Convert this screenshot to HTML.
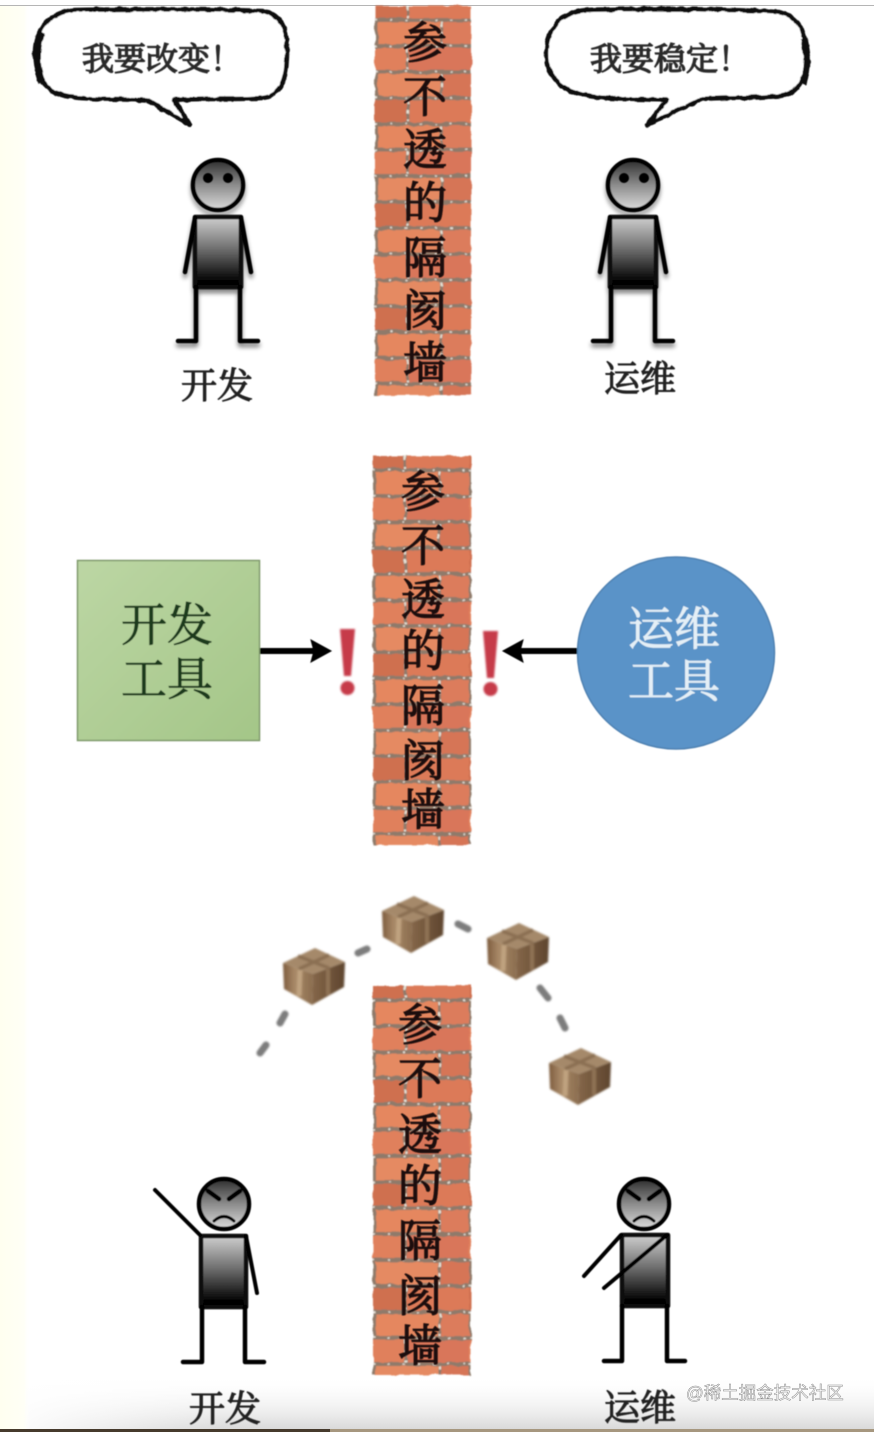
<!DOCTYPE html>
<html>
<head>
<meta charset="utf-8">
<style>
html,body{margin:0;padding:0;background:#fff;width:874px;height:1432px;overflow:hidden}
svg{display:block}
text{font-family:"Liberation Serif","Noto Serif CJK SC","Noto Sans CJK SC",serif}
.wall{font-size:44px;fill:#1c0d0a;stroke:#1c0d0a;stroke-width:1.2;text-anchor:middle}
.lab{font-size:36px;fill:#222;stroke:#222;stroke-width:1;text-anchor:middle}
.bub{font-size:32px;fill:#2a2a2a;stroke:#2a2a2a;stroke-width:1.3;text-anchor:middle}
.tool{font-size:46px;text-anchor:middle;stroke-width:.8}
</style>
</head>
<body>
<svg xmlns="http://www.w3.org/2000/svg" width="874" height="1432" viewBox="0 0 874 1432">
<defs>
<linearGradient id="side" x1="0" x2="1" y1="0" y2="0"><stop offset="0" stop-color="#fffff0"/><stop offset=".8" stop-color="#fffff6"/><stop offset="1" stop-color="#fff" stop-opacity="0"/></linearGradient>
<linearGradient id="foot" x1="0" x2="0" y1="0" y2="1"><stop offset="0" stop-color="#fff" stop-opacity="0"/><stop offset="1" stop-color="#d8d8d8"/></linearGradient>
<linearGradient id="footx" x1="0" x2="1" y1="0" y2="0"><stop offset="0" stop-color="#fff"/><stop offset=".45" stop-color="#fff" stop-opacity="0"/></linearGradient>
<linearGradient id="body" x1="0" x2="0" y1="0" y2="1"><stop offset="0" stop-color="#cfcfcf"/><stop offset=".45" stop-color="#707070"/><stop offset=".9" stop-color="#060606"/><stop offset="1" stop-color="#000"/></linearGradient>
<linearGradient id="head" x1="0" x2="0" y1="0" y2="1"><stop offset="0" stop-color="#2e2e2e"/><stop offset=".5" stop-color="#8c8c8c"/><stop offset="1" stop-color="#dcdcdc"/></linearGradient>
<linearGradient id="green" x1="0" x2="1" y1="0" y2="1"><stop offset="0" stop-color="#bcd6a4"/><stop offset="1" stop-color="#a4c688"/></linearGradient>
<linearGradient id="bl" x1="0" x2="1" y1="0" y2="0"><stop offset="0" stop-color="#7d5c3e"/><stop offset=".4" stop-color="#a98a68"/><stop offset="1" stop-color="#8a6c4e"/></linearGradient>
<linearGradient id="br" x1="0" x2="1" y1="0" y2="0"><stop offset="0" stop-color="#856749"/><stop offset="1" stop-color="#5e452f"/></linearGradient>
<filter id="b1" x="-10%" y="-10%" width="120%" height="120%"><feGaussianBlur stdDeviation="1"/></filter>
<filter id="b2" x="-20%" y="-20%" width="140%" height="140%"><feGaussianBlur stdDeviation="2.4"/></filter>
<filter id="b3" x="-10%" y="-10%" width="120%" height="120%"><feGaussianBlur stdDeviation=".6"/></filter>
<filter id="rough" x="-5%" y="-5%" width="110%" height="110%">
<feTurbulence type="fractalNoise" baseFrequency=".09" numOctaves="2" seed="4" result="n"/>
<feDisplacementMap in="SourceGraphic" in2="n" scale="4" xChannelSelector="R" yChannelSelector="G"/>
<feGaussianBlur stdDeviation=".7"/>
</filter>
<filter id="rough2" x="-5%" y="-5%" width="110%" height="110%">
<feTurbulence type="fractalNoise" baseFrequency=".12" numOctaves="2" seed="9" result="n"/>
<feDisplacementMap in="SourceGraphic" in2="n" scale="3.5" xChannelSelector="R" yChannelSelector="G"/>
<feGaussianBlur stdDeviation=".5"/>
</filter>

<pattern id="brick" width="96" height="104" patternUnits="userSpaceOnUse" patternTransform="translate(0,-10)">
<rect width="96" height="104" fill="#8f7a6a"/>
<rect x="0" y="0" width="31" height="22" fill="#cf6f50"/><rect x="34" y="0" width="62" height="22" fill="#dc7a58"/>
<rect x="3" y="26" width="62" height="22" fill="#e5875f"/><rect x="68" y="26" width="28" height="22" fill="#dc7c5c"/>
<rect x="0" y="52" width="31" height="22" fill="#e0805c"/><rect x="34" y="52" width="62" height="22" fill="#d9765a"/>
<rect x="3" y="78" width="62" height="22" fill="#e58a62"/><rect x="68" y="78" width="28" height="22" fill="#d67456"/>
<path d="M0 24H96M0 50H96M0 76H96M0 102H96" stroke="#e9e4dc" stroke-width="1.500" stroke-dasharray="2 13" fill="none"/>
<path d="M32.500 0V22M66.500 26V48M32.500 52V74M66.500 78V100" stroke="#e8e2d6" stroke-width="2" stroke-dasharray="4 6" fill="none"/>
</pattern>

<g id="cube">
<polygon points="-31,-14 1,-29 31,-15 -1,-3" fill="#a5896a"/>
<polygon points="-31,-14 -1,-3 -2,28 -30,12" fill="url(#bl)"/>
<polygon points="31,-15 -1,-3 -2,28 30,10" fill="url(#br)"/>
<path d="M-16,-21 L15,-9 M15,-22 L-15,-8" stroke="#8b7053" stroke-width="3.500" fill="none"/>
<path d="M-14,-7 L-15,19" stroke="#bfa27f" stroke-width="5" fill="none"/>
<path d="M14,-8 L14,18" stroke="#8f7255" stroke-width="4" fill="none"/>
</g>

<g id="fig">
<g stroke="#000" fill="none" stroke-linecap="round" stroke-linejoin="round">
<rect x="195" y="217" width="46" height="70" fill="url(#body)" stroke="#0a0a0a" stroke-width="4.500"/>
<path d="M195 218L185 272M241 218L251 272" stroke-width="4.500"/>
<path d="M196 287V341H178M240 287V341H258" stroke-width="4.500"/>
<circle cx="218" cy="185" r="25" fill="url(#head)" stroke-width="4.500"/>
</g>
</g>
</defs>

<rect width="874" height="1432" fill="#fff"/>
<rect x="0" y="1375" width="874" height="55" fill="url(#foot)"/>
<rect x="0" y="1375" width="500" height="55" fill="url(#footx)"/>
<rect width="30" height="1432" fill="url(#side)"/>
<rect x="0" y="0" width="874" height="5" fill="#fff"/>
<rect x="0" y="5" width="874" height="1" fill="#b5b5b5"/>

<!-- walls -->
<g filter="url(#rough)">
<g transform="translate(375,6)"><rect width="96" height="389" fill="url(#brick)"/></g>
<g transform="translate(373,456)"><rect width="98" height="389" fill="url(#brick)"/></g>
<g transform="translate(373,986)"><rect width="98" height="389" fill="url(#brick)"/></g>
</g>
<g filter="url(#b3)">
<text class="wall" x="425" y="58">参</text>
<text class="wall" x="425" y="112">不</text>
<text class="wall" x="425" y="165">透</text>
<text class="wall" x="425" y="218">的</text>
<text class="wall" x="425" y="273">隔</text>
<text class="wall" x="425" y="326">阂</text>
<text class="wall" x="425" y="378">墙</text>

<text class="wall" x="423" y="507">参</text>
<text class="wall" x="423" y="561">不</text>
<text class="wall" x="423" y="615">透</text>
<text class="wall" x="423" y="666">的</text>
<text class="wall" x="423" y="721">隔</text>
<text class="wall" x="423" y="776">阂</text>
<text class="wall" x="423" y="825">墙</text>

<text class="wall" x="420" y="1040">参</text>
<text class="wall" x="420" y="1094">不</text>
<text class="wall" x="420" y="1150">透</text>
<text class="wall" x="420" y="1201">的</text>
<text class="wall" x="420" y="1256">隔</text>
<text class="wall" x="420" y="1311">阂</text>
<text class="wall" x="420" y="1361">墙</text>
</g>

<!-- bubbles -->
<g filter="url(#rough2)" fill="#fff" stroke="#111" stroke-linejoin="round">
<path d="M75 10C125 9 215 9 262 11C280 13 288 28 287 52C287 78 282 96 262 98C235 100 205 98 174 100L190 125L147 100C120 99 85 100 65 96C44 90 36 78 35 56C34 30 50 12 75 10Z" stroke-width="4.500"/>
<path d="M41 32C36 50 36 68 42 82" stroke-width="7" fill="none"/>
<path d="M586 10C640 8 730 9 778 12C797 15 806 30 806 52C807 78 800 93 780 96C750 99 730 97 702 99L647 125L667 100C640 99 600 100 580 94C558 88 546 74 546 54C546 30 560 12 586 10Z" stroke-width="4.500"/>
<path d="M804 38C808 55 808 68 803 84" stroke-width="7" fill="none"/>
</g>
<g filter="url(#b3)">
<text class="bub" x="162" y="70">我要改变！</text>
<text class="bub" x="670" y="70">我要稳定！</text>
</g>

<!-- top figures -->
<use href="#fig" filter="url(#b2)" opacity=".5" y="4"/>
<use href="#fig" filter="url(#b3)"/>
<circle cx="208" cy="178" r="5" fill="#000" filter="url(#b3)"/><circle cx="228" cy="178" r="5" fill="#000" filter="url(#b3)"/>
<path d="M208 199H227" stroke="#222" stroke-width="3" filter="url(#b3)"/>
<use href="#fig" x="415" filter="url(#b2)" opacity=".5" y="4"/>
<use href="#fig" x="415" filter="url(#b3)"/>
<circle cx="624" cy="178" r="5" fill="#000" filter="url(#b3)"/><circle cx="644" cy="178" r="5" fill="#000" filter="url(#b3)"/>
<path d="M624 199H643" stroke="#222" stroke-width="3" filter="url(#b3)"/>
<g filter="url(#b3)">
<text class="lab" x="217" y="398">开发</text>
<text class="lab" x="640" y="391">运维</text>
</g>

<!-- tools -->
<g filter="url(#b3)">
<rect x="77.500" y="560.500" width="182" height="180" fill="url(#green)" stroke="#7f9a6c" stroke-width="1.500"/>
<text class="tool" x="167" y="641" fill="#1d3a1c" stroke="#1d3a1c">开发</text>
<text class="tool" x="167" y="695" fill="#1d3a1c" stroke="#1d3a1c">工具</text>
<ellipse cx="676" cy="653" rx="98.500" ry="96" fill="#5a93c8" stroke="#5082b2" stroke-width="1.500"/>
<text class="tool" x="674" y="645" fill="#e4eff6" stroke="#e4eff6">运维</text>
<text class="tool" x="674" y="697" fill="#e4eff6" stroke="#e4eff6">工具</text>
<path d="M260 651H315" stroke="#000" stroke-width="6"/>
<path d="M331 651L311 640L314 651L311 662Z" fill="#000" stroke="#000" stroke-width="1"/>
<path d="M577 651H520" stroke="#000" stroke-width="6"/>
<path d="M503 651L523 640L520 651L523 662Z" fill="#000" stroke="#000" stroke-width="1"/>
</g>
<g filter="url(#b1)">
<path d="M340 629H355L351 676H344Z" fill="#c63a48"/>
<circle cx="347.500" cy="688" r="7" fill="#c63a48"/>
<path d="M483 631H498L494 678H487Z" fill="#c63a48"/>
<circle cx="490.500" cy="689" r="7" fill="#c63a48"/>
</g>

<!-- boxes + dashes -->
<g filter="url(#b1)">
<use href="#cube" x="314" y="977" />
<use href="#cube" x="413" y="925"/>
<use href="#cube" x="518" y="952"/>
<use href="#cube" x="580" y="1077"/>
<g stroke="#7d7d7d" stroke-width="7" stroke-linecap="round">
<path d="M260 1053L266 1045M280 1023L285 1014M358 953L367 949M458 924L468 929M540 988L548 998M560 1018L565 1028"/>
</g>
</g>

<!-- bottom figures -->
<g filter="url(#b3)" stroke="#000" fill="none" stroke-linecap="round" stroke-linejoin="round">
<g>
<rect x="201" y="1236" width="45" height="71" fill="url(#body)" stroke="#0a0a0a" stroke-width="4.500"/>
<path d="M200 1235L155 1190M246 1236L257 1293" stroke-width="4"/>
<path d="M202 1307V1362H183M245 1307V1362H264" stroke-width="4.500"/>
<circle cx="224" cy="1204" r="25" fill="url(#head)" stroke-width="4.500"/>
<path d="M208 1191L219 1199M240 1191L229 1199" stroke-width="4.500"/>
<path d="M214 1221Q224 1212 234 1221" stroke-width="3"/>
</g>
<g>
<rect x="622" y="1235" width="46" height="71" fill="url(#body)" stroke="#0a0a0a" stroke-width="4.500"/>
<path d="M621 1235L584 1276M667 1235L604 1288" stroke-width="4"/>
<path d="M622 1306V1361H604M667 1306V1361H685" stroke-width="4.500"/>
<circle cx="644" cy="1204" r="25" fill="url(#head)" stroke-width="4.500"/>
<path d="M628 1191L639 1199M660 1191L649 1199" stroke-width="4.500"/>
<path d="M634 1221Q644 1212 654 1221" stroke-width="3"/>
</g>
</g>
<g filter="url(#b3)">
<text class="lab" x="225" y="1421">开发</text>
<text class="lab" x="640" y="1420">运维</text>
</g>

<!-- watermark -->
<text x="686" y="1399" style="font-family:'Liberation Sans','Noto Sans CJK SC',sans-serif;font-size:17.500px" fill="#fff" stroke="#8a8a8a" stroke-width=".5">@稀土掘金技术社区</text>

<!-- bottom bar -->
<rect x="0" y="1429" width="330" height="3" fill="#463a2c"/>
<rect x="330" y="1429" width="544" height="3" fill="#a6977f"/>
</svg>
</body>
</html>
